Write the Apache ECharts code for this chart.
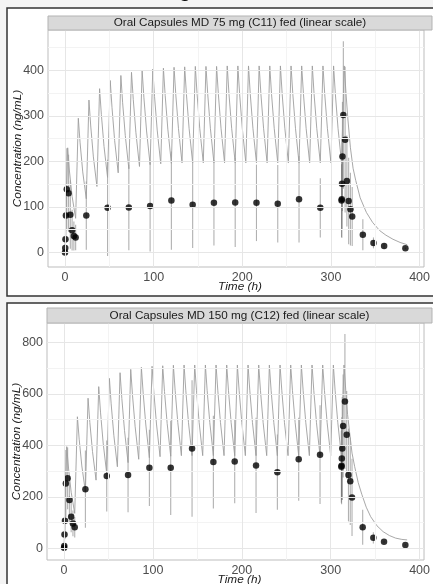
<!DOCTYPE html>
<html>
<head lang="en">
    <meta charset="UTF-8">
    <title>Oral Capsules MD fed</title>
    <script src="https://cdn.jsdelivr.net/npm/echarts@6.0.0/dist/echarts.min.js"></script>
    <style>
        html, body {margin:0; padding:0; background:#f4f4f4;}
        #main {width:433px; height:584px;}
    </style>
</head>
<body>
<div id="main"></div>
<script>
    // observation times (h) - same sampling for both panels
    var obsTime = [0, 0.25, 0.5, 1, 2, 4, 6, 8, 10, 12, 24, 48, 72, 96, 120, 144, 168, 192, 216, 240, 264, 288,
        312, 312.25, 312.5, 313, 314, 316, 318, 320, 322, 324, 336, 348, 360, 384];

    // 75 mg (C11): mean and SD
    var mean75 = [0, 10, 29, 81, 139, 130, 83, 49, 36, 33, 81, 98, 99, 102, 114, 105, 109, 110, 109, 107, 117, 98,
        114, 117, 151, 211, 302, 248, 157, 113, 95, 79, 39, 21, 14, 9];
    var sd75 = [0, 8, 22, 60, 90, 85, 75, 45, 32, 28, 75, 106, 94, 100, 108, 95, 94, 98, 84, 85, 95, 65,
        80, 85, 100, 120, 162, 160, 100, 95, 80, 65, 34, 12, 6, 2];

    // 150 mg (C12): mean and SD
    var mean150 = [3, 9, 54, 107, 252, 272, 188, 123, 97, 82, 230, 281, 285, 313, 313, 388, 335, 337, 322, 296, 346, 364,
        317, 321, 349, 388, 475, 570, 441, 285, 261, 198, 82, 41, 26, 13];
    var sd150 = [3, 8, 40, 70, 130, 120, 90, 60, 50, 40, 150, 138, 145, 148, 183, 265, 180, 162, 185, 146, 161, 192,
        140, 150, 160, 200, 200, 262, 170, 180, 170, 150, 68, 22, 5, 3];

    // simulated profile, 75 mg q12h
    var sim75 = [
        [0, 0], [3, 230], [5, 179], [8, 123],
        [12, 75], [15, 295], [17, 241], [20, 177],
        [24, 118], [27, 335], [29, 278], [32, 210],
        [36, 145], [39, 360], [41, 303], [44, 233],
        [48, 165], [51, 378], [53, 319], [56, 246],
        [60, 175], [63, 389], [65, 329], [68, 257],
        [72, 184], [75, 396], [77, 336], [80, 263],
        [84, 189], [87, 400], [89, 340], [92, 267],
        [96, 193], [99, 403], [101, 343], [104, 269],
        [108, 195], [111, 405], [113, 345], [116, 271],
        [120, 196], [123, 407], [125, 346], [128, 272],
        [132, 197], [135, 408], [137, 347], [140, 272],
        [144, 197], [147, 409], [149, 348], [152, 273],
        [156, 197], [159, 409], [161, 348], [164, 273],
        [168, 197], [171, 409], [173, 348], [176, 273],
        [180, 197], [183, 410], [185, 348], [188, 273],
        [192, 197], [195, 410], [197, 348], [200, 273],
        [204, 197], [207, 410], [209, 348], [212, 273],
        [216, 197], [219, 410], [221, 348], [224, 273],
        [228, 197], [231, 410], [233, 348], [236, 273],
        [240, 197], [243, 410], [245, 348], [248, 273],
        [252, 197], [255, 410], [257, 348], [260, 273],
        [264, 197], [267, 410], [269, 348], [272, 273],
        [276, 197], [279, 410], [281, 348], [284, 273],
        [288, 197], [291, 410], [293, 348], [296, 273],
        [300, 197], [303, 410], [305, 348], [308, 273],
        [312, 197], [315, 410], [317, 350], [319, 296], [322, 230], [325, 185], [328, 158],
        [333, 120], [340, 88], [347, 66], [355, 48], [362, 38], [370, 29], [378, 22], [386, 17]
    ];

    // simulated profile, 150 mg q12h
    var sim150 = [
        [0, 0], [3, 395], [5, 312], [8, 218],
        [12, 136], [15, 511], [17, 424], [20, 320],
        [24, 220], [27, 583], [29, 489], [32, 376],
        [36, 265], [39, 628], [41, 529], [44, 409],
        [48, 290], [51, 660], [53, 561], [56, 439],
        [60, 317], [63, 682], [65, 582], [68, 458],
        [72, 333], [75, 695], [77, 595], [80, 472],
        [84, 346], [87, 703], [89, 603], [92, 479],
        [96, 352], [99, 707], [101, 607], [104, 483],
        [108, 356], [111, 709], [113, 609], [116, 485],
        [120, 358], [123, 711], [125, 612], [128, 488],
        [132, 360], [135, 712], [137, 612], [140, 488],
        [144, 360], [147, 712], [149, 612], [152, 488],
        [156, 360], [159, 712], [161, 612], [164, 488],
        [168, 360], [171, 712], [173, 612], [176, 488],
        [180, 360], [183, 712], [185, 612], [188, 488],
        [192, 360], [195, 712], [197, 612], [200, 488],
        [204, 360], [207, 712], [209, 612], [212, 488],
        [216, 360], [219, 712], [221, 612], [224, 488],
        [228, 360], [231, 712], [233, 612], [236, 488],
        [240, 360], [243, 712], [245, 612], [248, 488],
        [252, 360], [255, 712], [257, 612], [260, 488],
        [264, 360], [267, 712], [269, 612], [272, 488],
        [276, 360], [279, 712], [281, 612], [284, 488],
        [288, 360], [291, 712], [293, 612], [296, 488],
        [300, 360], [303, 712], [305, 612], [308, 488],
        [312, 360], [315, 712], [317, 612], [319, 520], [321, 459], [324, 370], [327, 317],
        [331, 255], [335, 210], [340, 160], [345, 123], [352, 88], [359, 65], [366, 50],
        [373, 40], [380, 35], [386, 33]
    ];

    // ticks / grid breaks
    var xTicks = [0, 100, 200, 300, 400];
    var xMinor = [50, 150, 250, 350];
    var yTicks75 = [0, 100, 200, 300, 400];
    var yMinor75 = [50, 150, 250, 350, 450];
    var yTicks150 = [0, 200, 400, 600, 800];
    var yMinor150 = [100, 300, 500, 700];

    var titles = ['Oral Capsules MD 75 mg (C11) fed (linear scale)',
                  'Oral Capsules MD 150 mg (C12) fed (linear scale)'];

    var FONT = 'Liberation Sans, Arial, sans-serif';
    var myChart = echarts.init(document.getElementById('main'), null, {renderer: 'canvas'});

    function pairs(times, vals) {
        return times.map(function (t, i) { return [t, vals[i]]; });
    }

    function bars(means, sds) {
        return obsTime.map(function (t, i) { return [t, means[i] - sds[i], means[i] + sds[i]]; });
    }

    function gridLines(idx, yMaj, yMin) {
        var maj = xTicks.map(function (v) { return {xAxis: v}; })
            .concat(yMaj.map(function (v) { return {yAxis: v}; }));
        var mnr = xMinor.map(function (v) { return {xAxis: v}; })
            .concat(yMin.map(function (v) { return {yAxis: v}; }));
        return [{
            type: 'line', xAxisIndex: idx, yAxisIndex: idx, data: [], z: 0, silent: true,
            markLine: {silent: true, symbol: 'none', label: {show: false}, animation: false,
                lineStyle: {color: '#f3f3f3', width: 1, type: 'solid'}, data: mnr}
        }, {
            type: 'line', xAxisIndex: idx, yAxisIndex: idx, data: [], z: 0, silent: true,
            markLine: {silent: true, symbol: 'none', label: {show: false}, animation: false,
                lineStyle: {color: '#e6e6e6', width: 1, type: 'solid'}, data: maj}
        }];
    }

    function errSeries(idx, data) {
        return {
            type: 'custom', xAxisIndex: idx, yAxisIndex: idx, data: data, z: 2, silent: true,
            renderItem: function (params, api) {
                var a = api.coord([api.value(0), api.value(1)]);
                var b = api.coord([api.value(0), api.value(2)]);
                return {type: 'line', shape: {x1: a[0], y1: a[1], x2: b[0], y2: b[1]},
                    style: {stroke: 'rgba(100,100,100,0.5)', lineWidth: 1.1}};
            }
        };
    }

    function xAxis(idx) {
        return {
            type: 'value', gridIndex: idx, min: -19.2, max: 405,
            axisLine: {show: false},
            axisTick: {show: true, length: 3, customValues: xTicks, lineStyle: {color: '#b3b3b3'}},
            axisLabel: {customValues: xTicks, margin: 4, color: '#4d4d4d', fontSize: 12.5, fontFamily: FONT},
            splitLine: {show: false}
        };
    }

    function yAxis(idx, min, max, ticks) {
        return {
            type: 'value', gridIndex: idx, min: min, max: max,
            axisLine: {show: false},
            axisTick: {show: true, length: 3, customValues: ticks, lineStyle: {color: '#b3b3b3'}},
            axisLabel: {customValues: ticks, margin: 4, color: '#4d4d4d', fontSize: 12.5, fontFamily: FONT},
            splitLine: {show: false}
        };
    }

    var option = {
        animation: false,
        backgroundColor: 'transparent',
        grid: [
            {left: 48, top: 30, width: 384, height: 237, show: true, backgroundColor: '#fff',
                borderColor: '#bdbdbd', borderWidth: 1},
            {left: 47, top: 323, width: 385, height: 237, show: true, backgroundColor: '#fff',
                borderColor: '#bdbdbd', borderWidth: 1}
        ],
        xAxis: [xAxis(0), xAxis(1)],
        yAxis: [yAxis(0, -32, 489, yTicks75), yAxis(1, -45, 875, yTicks150)],
        graphic: [
            {type: 'rect', z: -10, shape: {x: 7, y: 8, width: 440, height: 288},
                style: {fill: '#fff', stroke: '#333', lineWidth: 1.5}},
            {type: 'rect', z: -10, shape: {x: 7, y: 303, width: 440, height: 300},
                style: {fill: '#fff', stroke: '#333', lineWidth: 1.5}},
            {type: 'text', z: 10, x: 185, y: -19,
                style: {text: 'g', font: 'bold 20px ' + FONT, fill: '#000', textAlign: 'center'}},
            {type: 'rect', z: 10, shape: {x: 48, y: 16, width: 384, height: 14},
                style: {fill: '#d9d9d9', stroke: '#b3b3b3', lineWidth: 1}},
            {type: 'text', z: 11, x: 240, y: 23,
                style: {text: titles[0], font: '11.7px ' + FONT, fill: '#1a1a1a',
                    textAlign: 'center', textVerticalAlign: 'middle'}},
            {type: 'rect', z: 10, shape: {x: 47, y: 308, width: 385, height: 15},
                style: {fill: '#d9d9d9', stroke: '#b3b3b3', lineWidth: 1}},
            {type: 'text', z: 11, x: 239.5, y: 315.5,
                style: {text: titles[1], font: '11.7px ' + FONT, fill: '#1a1a1a',
                    textAlign: 'center', textVerticalAlign: 'middle'}},
            {type: 'text', z: 11, x: 18, y: 148.5, rotation: Math.PI / 2,
                style: {text: 'Concentration (ng/mL)', font: 'italic 11.8px ' + FONT, fill: '#1a1a1a',
                    textAlign: 'center', textVerticalAlign: 'middle'}},
            {type: 'text', z: 11, x: 240, y: 287,
                style: {text: 'Time (h)', font: 'italic 11.8px ' + FONT, fill: '#1a1a1a',
                    textAlign: 'center', textVerticalAlign: 'middle'}},
            {type: 'text', z: 11, x: 17, y: 441.5, rotation: Math.PI / 2,
                style: {text: 'Concentration (ng/mL)', font: 'italic 11.8px ' + FONT, fill: '#1a1a1a',
                    textAlign: 'center', textVerticalAlign: 'middle'}},
            {type: 'text', z: 11, x: 239.5, y: 580,
                style: {text: 'Time (h)', font: 'italic 11.8px ' + FONT, fill: '#1a1a1a',
                    textAlign: 'center', textVerticalAlign: 'middle'}}
        ],
        series: [].concat(
            gridLines(0, yTicks75, yMinor75),
            gridLines(1, yTicks150, yMinor150),
            [
                {type: 'line', xAxisIndex: 0, yAxisIndex: 0, data: sim75, showSymbol: false, z: 3,
                    lineStyle: {color: '#9e9e9e', width: 0.9}, silent: true},
                {type: 'line', xAxisIndex: 1, yAxisIndex: 1, data: sim150, showSymbol: false, z: 3,
                    lineStyle: {color: '#9e9e9e', width: 0.9}, silent: true},
                errSeries(0, bars(mean75, sd75)),
                errSeries(1, bars(mean150, sd150)),
                {type: 'scatter', xAxisIndex: 0, yAxisIndex: 0, data: pairs(obsTime, mean75), z: 4,
                    symbolSize: 6.5, itemStyle: {color: '#000'}, silent: true},
                {type: 'scatter', xAxisIndex: 1, yAxisIndex: 1, data: pairs(obsTime, mean150), z: 4,
                    symbolSize: 6.5, itemStyle: {color: '#000'}, silent: true}
            ]
        )
    };
    myChart.setOption(option);
</script>
</body>
</html>
